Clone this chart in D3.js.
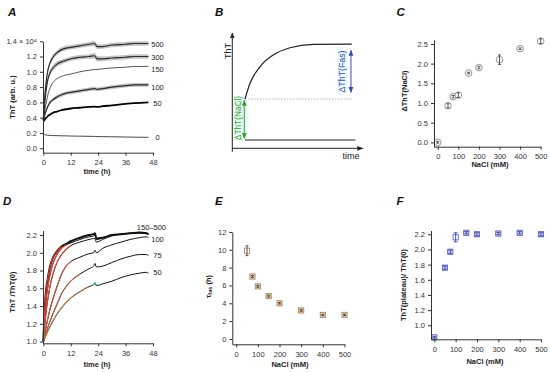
<!DOCTYPE html>
<html><head><meta charset="utf-8">
<script src="https://cdn.jsdelivr.net/npm/d3@7"></script>
<style>
body{margin:0;background:#fff}
svg{display:block}
text{font-family:"Liberation Sans",Arial,sans-serif}
</style>
</head><body>
<svg id="c" width="550" height="372"></svg>
<script>
// ---------------- DATA ----------------
// Panel A: ThT (x1e4) vs time (h)
const timeA = [0, 0.5, 1, 2, 3, 4, 6, 8, 10, 12, 16, 20, 22.5, 23.5, 26, 30, 36, 40, 46];
const thtA500 = [0.37, 0.62, 0.80, 1.02, 1.12, 1.18, 1.25, 1.29, 1.31, 1.32, 1.34, 1.36, 1.37, 1.33, 1.33, 1.35, 1.36, 1.37, 1.37];
const thtA300 = [0.37, 0.55, 0.70, 0.90, 0.99, 1.04, 1.10, 1.13, 1.15, 1.17, 1.19, 1.20, 1.21, 1.17, 1.17, 1.18, 1.19, 1.20, 1.20];
const thtA150 = [0.37, 0.46, 0.55, 0.70, 0.79, 0.85, 0.91, 0.94, 0.96, 0.97, 1.00, 1.02, 1.03, 1.03, 1.04, 1.05, 1.06, 1.07, 1.07];
const thtA100 = [0.37, 0.42, 0.47, 0.55, 0.60, 0.63, 0.67, 0.70, 0.72, 0.73, 0.75, 0.77, 0.78, 0.77, 0.78, 0.80, 0.82, 0.83, 0.83];
const thtA50  = [0.35, 0.37, 0.39, 0.42, 0.44, 0.46, 0.48, 0.50, 0.51, 0.52, 0.53, 0.54, 0.545, 0.54, 0.55, 0.56, 0.58, 0.59, 0.60];
const thtA0   = [0.19, 0.18, 0.175, 0.17, 0.168, 0.166, 0.165, 0.163, 0.162, 0.16, 0.158, 0.156, 0.155, 0.153, 0.152, 0.15, 0.147, 0.145, 0.143];
const errA500 = [0.01, 0.02, 0.025, 0.03, 0.03, 0.03, 0.03, 0.03, 0.03, 0.03, 0.03, 0.03, 0.035, 0.035, 0.03, 0.03, 0.03, 0.03, 0.03];
const errA300 = [0.01, 0.02, 0.03, 0.035, 0.035, 0.035, 0.035, 0.03, 0.03, 0.03, 0.03, 0.03, 0.035, 0.035, 0.03, 0.03, 0.03, 0.03, 0.03];
const errA100 = [0.01, 0.015, 0.02, 0.025, 0.025, 0.025, 0.025, 0.025, 0.025, 0.025, 0.025, 0.025, 0.025, 0.025, 0.025, 0.025, 0.025, 0.025, 0.025];
const labelsA = ["500", "300", "150", "100", "50", "0"];
const labelValA = [1.36, 1.19, 1.03, 0.79, 0.58, 0.135];
const yTicksA = [0, 0.2, 0.4, 0.6, 0.8, 1.0, 1.2, 1.4];
const yTickLabelsA = ["0.0", "0.2", "0.4", "0.6", "0.8", "1.0", "1.2", "1.4 \u00d7 10\u2074"];
const timeTicks = [0, 12, 24, 36, 48];

// Panel B: schematic
const schemT = [9.7, 13.6, 21.2, 31.4, 44.2, 62.1, 91.6];
const schemV = [42.7, 56.4, 70.7, 80.9, 87.2, 90.2, 90.4];

// Panel C: delta ThT(NaCl) vs NaCl
const nacl = [0, 50, 75, 100, 150, 200, 300, 400, 500];
const dThtNaCl = [0.0, 0.93, 1.16, 1.20, 1.76, 1.90, 2.10, 2.38, 2.57];
const dThtNaClErr = [0.02, 0.05, 0.03, 0.06, 0.02, 0.03, 0.12, 0.02, 0.06];
const yTicksC = [0, 0.5, 1.0, 1.5, 2.0, 2.5];
const naclTicks = [0, 100, 200, 300, 400, 500];

// Panel D: ThT/ThT(0) vs time
const timeD = [0, 0.5, 1, 2, 3, 4, 6, 8, 10, 12, 16, 20, 22, 22.6, 23.2, 26, 30, 34, 38, 42, 45, 46];
const normD500 = [1.0, 1.30, 1.52, 1.72, 1.85, 1.93, 2.02, 2.07, 2.10, 2.13, 2.17, 2.20, 2.21, 2.22, 2.16, 2.17, 2.20, 2.21, 2.22, 2.23, 2.22, 2.21];
const normD200 = [1.0, 1.22, 1.40, 1.62, 1.76, 1.86, 1.98, 2.05, 2.09, 2.11, 2.15, 2.18, 2.19, 2.20, 2.15, 2.17, 2.20, 2.21, 2.22, 2.22, 2.22, 2.21];
const normD150 = [1.0, 1.15, 1.28, 1.48, 1.63, 1.74, 1.89, 1.98, 2.04, 2.08, 2.12, 2.15, 2.16, 2.16, 2.12, 2.15, 2.19, 2.21, 2.22, 2.23, 2.22, 2.21];
const normD100 = [1.0, 1.07, 1.14, 1.26, 1.37, 1.46, 1.62, 1.76, 1.85, 1.90, 1.95, 1.99, 2.00, 2.03, 2.00, 2.05, 2.09, 2.12, 2.15, 2.17, 2.18, 2.17];
const normD75  = [1.0, 1.04, 1.08, 1.16, 1.23, 1.30, 1.42, 1.54, 1.62, 1.68, 1.76, 1.82, 1.85, 1.88, 1.84, 1.85, 1.89, 1.93, 1.96, 1.98, 1.98, 1.97];
const normD50  = [1.0, 1.03, 1.06, 1.12, 1.17, 1.22, 1.31, 1.38, 1.44, 1.49, 1.56, 1.62, 1.64, 1.66, 1.63, 1.65, 1.68, 1.72, 1.75, 1.77, 1.78, 1.77];
const fitEndD = [8, 10, 12, 14, 18, 20];
const labelsD = ["150\u2013500", "100", "75", "50"];
const labelValD = [2.285, 2.15, 1.965, 1.78];
const yTicksD = [1.0, 1.2, 1.4, 1.6, 1.8, 2.0, 2.2];

// Panel E: tau_fas vs NaCl
const naclE = [50, 75, 100, 150, 200, 300, 400, 500];
const tauFas = [9.9, 7.0, 5.9, 4.8, 4.0, 3.2, 2.7, 2.7];
const tauFasErr = [0.55, 0.1, 0.1, 0.1, 0.08, 0.1, 0.08, 0.08];
const yTicksE = [0, 2, 4, 6, 8, 10, 12];

// Panel F: plateau ratio vs NaCl
const plateauF = [0.84, 1.76, 1.97, 2.16, 2.22, 2.20, 2.21, 2.22, 2.20];
const plateauFErr = [0.01, 0.02, 0.02, 0.06, 0.015, 0.02, 0.015, 0.015, 0.02];
const yTicksF = [1.0, 1.2, 1.4, 1.6, 1.8, 2.0, 2.2];

// ---------------- DRAWING ----------------
const svg = d3.select("#c");
const FONT = "Liberation Sans, Arial, sans-serif";
const AX = "#333";

function styleAxis(sel) {
  sel.attr("font-size", 7.5).attr("font-family", FONT);
  sel.select(".domain").attr("stroke", AX).attr("stroke-width", 1);
  sel.selectAll(".tick line").attr("stroke", AX);
  sel.selectAll(".tick text").attr("fill", "#333");
}
function leftAxis(scale, x, ticks, fmt) {
  const a = d3.axisLeft(scale).tickValues(ticks).tickSize(3).tickSizeOuter(0).tickPadding(3);
  if (fmt) a.tickFormat(fmt);
  svg.append("g").attr("transform", `translate(${x},0)`).call(a).call(styleAxis);
}
function bottomAxis(scale, y, ticks, fmt) {
  const a = d3.axisBottom(scale).tickValues(ticks).tickSize(3).tickSizeOuter(0).tickPadding(4);
  if (fmt) a.tickFormat(fmt);
  svg.append("g").attr("transform", `translate(0,${y})`).call(a).call(styleAxis);
}
function title(txt, x, y, rot) {
  const t = svg.append("text").attr("font-size", 7.5).attr("font-weight", "bold").attr("fill", "#222")
    .attr("text-anchor", "middle").attr("dominant-baseline", "central");
  if (rot) t.attr("transform", `translate(${x},${y}) rotate(-90)`);
  else t.attr("x", x).attr("y", y);
  t.text(txt);
  return t;
}
function panelLetter(txt, x, y) {
  svg.append("text").attr("x", x).attr("y", y).attr("font-size", 11.5).attr("font-weight", "bold")
    .attr("font-style", "italic").attr("fill", "#111").text(txt);
}

// ===== Panel A =====
const xA = d3.scaleLinear().domain([0, 48]).range([43.3, 153]);
const yA = d3.scaleLinear().domain([-0.058, 1.4]).range([152.7, 41.2]);
const lineA = d3.line().x((d, i) => xA(timeA[i])).y(d => yA(d)).curve(d3.curveMonotoneX);
const areaA = (vals, errs) => d3.area().x((d, i) => xA(timeA[i]))
  .y0((d, i) => yA(vals[i] - errs[i])).y1((d, i) => yA(vals[i] + errs[i])).curve(d3.curveMonotoneX)(vals);
[[thtA500, errA500], [thtA300, errA300], [thtA100, errA100]].forEach(([v, e]) => {
  svg.append("path").attr("d", areaA(v, e)).attr("fill", "#c4c4c4");
});
const seriesA = [
  [thtA500, "#2b2b2b", 1.2], [thtA300, "#2b2b2b", 1.2], [thtA150, "#2b2b2b", 0.8],
  [thtA100, "#2b2b2b", 1.2], [thtA50, "#000", 1.8], [thtA0, "#333", 0.9]
];
seriesA.forEach(([v, c, w]) => {
  svg.append("path").attr("d", lineA(v)).attr("fill", "none").attr("stroke", c).attr("stroke-width", w);
});
labelsA.forEach((l, i) => {
  svg.append("text").attr("x", 157.5).attr("y", yA(labelValA[i])).attr("text-anchor", "middle")
    .attr("dominant-baseline", "central").attr("font-size", 7.5).attr("fill", "#222").text(l);
});
leftAxis(yA, 43, yTicksA, (d, i) => yTickLabelsA[i]);
bottomAxis(xA, 152.7, timeTicks);
title("time (h)", 97, 171.5);
title("ThT (arb. u.)", 12.5, 97, true);
panelLetter("A", 8, 16);

// ===== Panel B =====
const xB = d3.scaleLinear().domain([0, 100]).range([232.3, 362.7]);
const yB = d3.scaleLinear().domain([0, 100]).range([148.3, 33]);
const defs = svg.append("defs");
function marker(id, color, orient) {
  defs.append("marker").attr("id", id).attr("viewBox", "0 0 10 10").attr("refX", 9).attr("refY", 5)
    .attr("markerWidth", 6).attr("markerHeight", 6).attr("orient", orient)
    .append("path").attr("d", "M0,1 L10,5 L0,9 Z").attr("fill", color);
}
marker("ax", "#222", "auto");
marker("g1", "#3f9a2f", "auto-start-reverse");
marker("b1", "#3a4aa8", "auto-start-reverse");
// light highlight backgrounds behind labels
svg.append("rect").attr("x", 233).attr("y", 96).attr("width", 14).attr("height", 45).attr("fill", "#e4f8f6");
svg.append("rect").attr("x", 337).attr("y", 47).attr("width", 10).attr("height", 48).attr("fill", "#ecf8fa");
// axes
svg.append("line").attr("x1", xB(0)).attr("y1", yB(-3)).attr("x2", xB(0)).attr("y2", yB(100))
  .attr("stroke", "#222").attr("stroke-width", 1).attr("marker-end", "url(#ax)");
svg.append("line").attr("x1", xB(0)).attr("y1", yB(0)).attr("x2", xB(100)).attr("y2", yB(0))
  .attr("stroke", "#222").attr("stroke-width", 1).attr("marker-end", "url(#ax)");
// baseline
svg.append("line").attr("x1", xB(9.7)).attr("x2", xB(94.5)).attr("y1", yB(7.2)).attr("y2", yB(7.2))
  .attr("stroke", "#222").attr("stroke-width", 1.2);
// dotted
svg.append("line").attr("x1", xB(9.7)).attr("x2", xB(91.6)).attr("y1", yB(42.7)).attr("y2", yB(42.7))
  .attr("stroke", "#999").attr("stroke-width", 0.8).attr("stroke-dasharray", "1.5,1.5");
// curve
svg.append("path").attr("d", d3.line().x((d, i) => xB(schemT[i])).y(d => yB(d)).curve(d3.curveMonotoneX)(schemV))
  .attr("fill", "none").attr("stroke", "#222").attr("stroke-width", 1.2);
// green arrow
svg.append("line").attr("x1", xB(9.2)).attr("x2", xB(9.2)).attr("y1", yB(41.5)).attr("y2", yB(8.5))
  .attr("stroke", "#3f9a2f").attr("stroke-width", 1).attr("marker-start", "url(#g1)").attr("marker-end", "url(#g1)");
// blue arrow
svg.append("line").attr("x1", xB(91)).attr("x2", xB(91)).attr("y1", yB(85)).attr("y2", yB(48.5))
  .attr("stroke", "#3a4aa8").attr("stroke-width", 1).attr("marker-start", "url(#b1)").attr("marker-end", "url(#b1)");
svg.append("text").attr("transform", `translate(238,118) rotate(-90)`).attr("text-anchor", "middle")
  .attr("dominant-baseline", "central").attr("font-size", 8.3).attr("fill", "#3f9a2f").text("\u0394ThT(NaCl)");
svg.append("text").attr("transform", `translate(342,71.5) rotate(-90)`).attr("text-anchor", "middle")
  .attr("dominant-baseline", "central").attr("font-size", 8.8).attr("fill", "#3a4aa8").text("\u0394ThT(Fas)");
svg.append("text").attr("transform", `translate(227.5,51) rotate(-90)`).attr("text-anchor", "middle")
  .attr("dominant-baseline", "central").attr("font-size", 9).attr("fill", "#222").text("ThT");
svg.append("text").attr("x", 351).attr("y", 155.5).attr("text-anchor", "middle")
  .attr("dominant-baseline", "central").attr("font-size", 9).attr("fill", "#222").text("time");
panelLetter("B", 215, 16);

// ===== Panel C =====
const xC = d3.scaleLinear().domain([-18, 500]).range([434, 540.7]);
const yC = d3.scaleLinear().domain([-0.11, 2.6]).range([146.7, 40]);
nacl.forEach((n, i) => {
  const cx = xC(n), cy = yC(dThtNaCl[i]);
  svg.append("circle").attr("cx", cx).attr("cy", cy).attr("r", 3.3).attr("fill", "#fff")
    .attr("stroke", "#7a7a7a").attr("stroke-width", 0.8);
  const e = dThtNaClErr[i];
  const y1 = yC(dThtNaCl[i] + e), y2 = yC(dThtNaCl[i] - e);
  svg.append("line").attr("x1", cx).attr("x2", cx).attr("y1", y1).attr("y2", y2).attr("stroke", "#333").attr("stroke-width", 0.8);
  [y1, y2].forEach(yy => svg.append("line").attr("x1", cx - 1.5).attr("x2", cx + 1.5).attr("y1", yy).attr("y2", yy)
    .attr("stroke", "#333").attr("stroke-width", 0.8));
});
leftAxis(yC, 434, yTicksC, d3.format(".1f"));
bottomAxis(xC, 146.7, naclTicks);
title("NaCl (mM)", 490, 164.5);
title("\u0394ThT(NaCl)", 404, 91, true);
panelLetter("C", 396.5, 16);

// ===== Panel D =====
const xD = d3.scaleLinear().domain([0, 48]).range([43.3, 153]);
const yD = d3.scaleLinear().domain([0.98, 2.25]).range([343.3, 230.6]);
const lineD = d3.line().x(d => xD(d[0])).y(d => yD(d[1])).curve(d3.curveMonotoneX);
const seriesD = [
  [normD500, 2.0, "#d8402f"], [normD200, 1.0, "#d8402f"], [normD150, 1.0, "#d4473a"],
  [normD100, 1.0, "#c4563c"], [normD75, 1.0, "#b06a45"], [normD50, 1.0, "#b07a50"]
];
seriesD.forEach(([v, w]) => {
  const pts = v.map((d, i) => [timeD[i], d]);
  svg.append("path").attr("d", lineD(pts)).attr("fill", "none").attr("stroke", "#111").attr("stroke-width", w);
});
seriesD.forEach(([v, w, c], k) => {
  const pts = v.map((d, i) => [timeD[i], d]).filter(p => p[0] <= fitEndD[k]);
  svg.append("path").attr("d", lineD(pts)).attr("fill", "none").attr("stroke", c).attr("stroke-width", 1.1);
});
// green bump segment on the 50 curve
{
  const pts = normD50.map((d, i) => [timeD[i], d]).filter(p => p[0] >= 22 && p[0] <= 23.2);
  svg.append("path").attr("d", lineD(pts)).attr("fill", "none").attr("stroke", "#2aa87a").attr("stroke-width", 1.2);
}
labelsD.forEach((l, i) => {
  const t = svg.append("text").attr("y", yD(labelValD[i])).attr("dominant-baseline", "central")
    .attr("font-size", 7.5).attr("fill", "#222").text(l);
  if (i === 0) t.attr("x", 166).attr("text-anchor", "end");
  else t.attr("x", 157.5).attr("text-anchor", "middle");
});
leftAxis(yD, 43, yTicksD, d3.format(".1f"));
bottomAxis(xD, 343.3, timeTicks);
title("time (h)", 97, 364);
title("ThT /ThT(0)", 12.5, 292, true);
panelLetter("D", 3, 205);

// ===== Panel E =====
const xE = d3.scaleLinear().domain([-18, 500]).range([232.3, 344.5]);
const yE = d3.scaleLinear().domain([-0.6, 12]).range([344.3, 232]);
naclE.forEach((n, i) => {
  const cx = xE(n), cy = yE(tauFas[i]);
  const open = i === 0;
  svg.append("rect").attr("x", cx - 2.6).attr("y", cy - 2.6).attr("width", 5.2).attr("height", 5.2)
    .attr("fill", open ? "#fff" : "#e6d2b4").attr("stroke", "#a0815c").attr("stroke-width", 0.8);
  const e = tauFasErr[i];
  const y1 = yE(tauFas[i] + e), y2 = yE(tauFas[i] - e);
  svg.append("line").attr("x1", cx).attr("x2", cx).attr("y1", y1).attr("y2", y2).attr("stroke", "#333").attr("stroke-width", 0.8);
  [y1, y2].forEach(yy => svg.append("line").attr("x1", cx - 1.5).attr("x2", cx + 1.5).attr("y1", yy).attr("y2", yy)
    .attr("stroke", "#333").attr("stroke-width", 0.8));
});
leftAxis(yE, 232.3, yTicksE);
bottomAxis(xE, 344.3, naclTicks);
title("NaCl (mM)", 290, 364);
{
  const t = svg.append("text").attr("transform", "translate(208,286.5) rotate(-90)").attr("text-anchor", "middle")
    .attr("dominant-baseline", "central").attr("font-size", 7.5).attr("font-weight", "bold").attr("fill", "#222");
  t.append("tspan").text("\u03c4");
  t.append("tspan").attr("font-size", 5.5).attr("dy", 1.8).text("fas");
  t.append("tspan").attr("dy", -1.8).text(" (h)");
}
panelLetter("E", 215, 205);

// ===== Panel F =====
const xF = d3.scaleLinear().domain([-15.5, 500]).range([431, 541]);
const yF = d3.scaleLinear().domain([0.815, 2.25]).range([339.3, 230.5]);
nacl.forEach((n, i) => {
  const cx = xF(n), cy = yF(plateauF[i]);
  svg.append("rect").attr("x", cx - 2.6).attr("y", cy - 2.6).attr("width", 5.2).attr("height", 5.2)
    .attr("fill", i === 3 ? "#fff" : "#d8dcf4").attr("stroke", "#4a4fc0").attr("stroke-width", 0.8);
  const e = plateauFErr[i];
  const y1 = yF(plateauF[i] + e), y2 = yF(plateauF[i] - e);
  svg.append("line").attr("x1", cx).attr("x2", cx).attr("y1", y1).attr("y2", y2).attr("stroke", "#2a2f90").attr("stroke-width", 0.8);
  [y1, y2].forEach(yy => svg.append("line").attr("x1", cx - 2).attr("x2", cx + 2).attr("y1", yy).attr("y2", yy)
    .attr("stroke", "#2a2f90").attr("stroke-width", 0.8));
});
leftAxis(yF, 431, yTicksF, d3.format(".1f"));
bottomAxis(xF, 339.3, naclTicks);
title("NaCl (mM)", 485, 361.5);
title("ThT(plateau)/ ThT(0)", 403, 285, true);
panelLetter("F", 396.5, 205);
</script>
</body></html>
